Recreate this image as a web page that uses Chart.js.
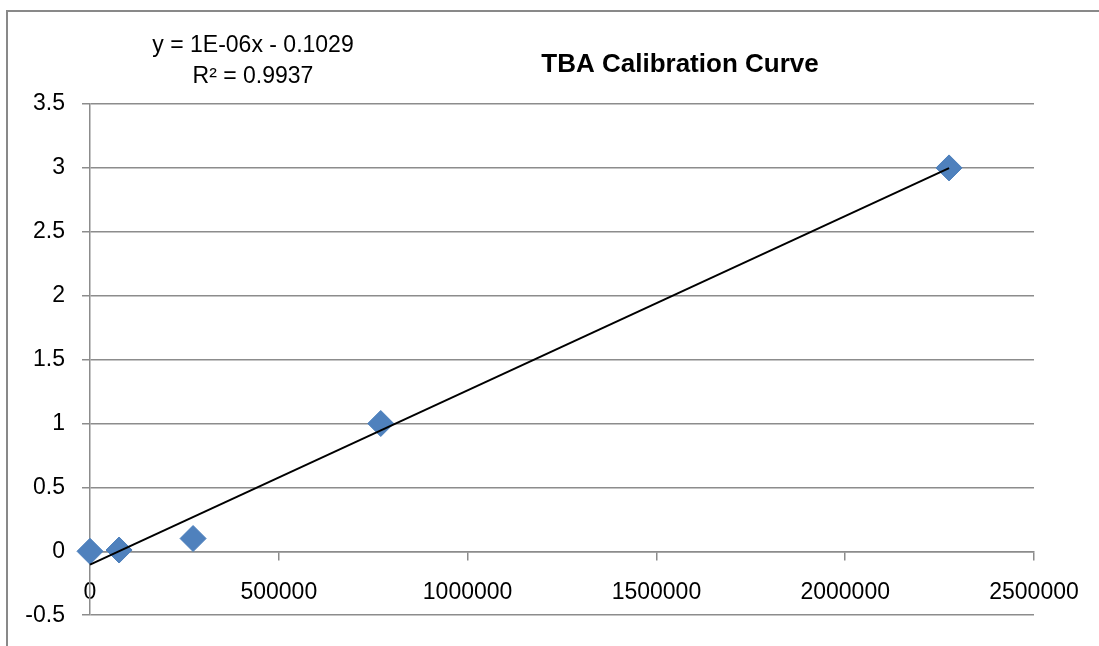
<!DOCTYPE html>
<html>
<head>
<meta charset="utf-8">
<title>TBA Calibration Curve</title>
<script src="https://cdn.jsdelivr.net/npm/chart.js@4.4.0/dist/chart.umd.min.js"></script>
<style>
    html, body { margin: 0; padding: 0; background: #ffffff; overflow: hidden; }
    #wrap { width: 1099px; height: 646px; }
</style>
</head>
<body>
<div id="wrap"><canvas id="calChart" width="1099" height="646"></canvas></div>
<script>
// --- Data ---
const peakArea = [0, 77000, 273000, 770000, 2275000];
const concentration = [0, 0.01, 0.1, 1, 3];

const chartTitle = 'TBA Calibration Curve';
const trendLabel = ['y = 1E-06x - 0.1029', 'R\u00B2 = 0.9937'];

const xTicks = { min: 0, max: 2500000, step: 500000 };
const yTicks = { min: -0.5, max: 3.5, step: 0.5 };

// --- Styles ---
const GRID = '#8c8c8c';
const MARKER = '#4f81bd';
const FONT = '"Liberation Sans", Arial, sans-serif';

// least squares fit for the trendline
const fitLine = (xs, ys) => {
    const n = xs.length;
    const mx = xs.reduce((a, b) => a + b, 0) / n;
    const my = ys.reduce((a, b) => a + b, 0) / n;
    let sxy = 0, sxx = 0;
    for (let i = 0; i < n; i++) {
        sxy += (xs[i] - mx) * (ys[i] - my);
        sxx += (xs[i] - mx) * (xs[i] - mx);
    }
    const slope = sxy / sxx;
    return { slope: slope, intercept: my - slope * mx };
};

const fit = fitLine(peakArea, concentration);
const xEnd = Math.max(...peakArea);
const trendPoints = [
    { x: 0, y: fit.intercept },
    { x: xEnd, y: fit.slope * xEnd + fit.intercept }
];
const points = peakArea.map((x, i) => ({ x: x, y: concentration[i] }));

// frame + texts drawn on the canvas
const textPlugin = {
    id: 'excelText',
    beforeDraw(chart) {
        const ctx = chart.ctx;
        ctx.save();
        ctx.strokeStyle = '#898989';
        ctx.lineWidth = 2;
        ctx.strokeRect(7, 11, 1200, 800);
        ctx.restore();
    },
    afterDraw(chart) {
        const ctx = chart.ctx;
        ctx.save();
        ctx.fillStyle = '#000000';
        ctx.textAlign = 'center';
        ctx.textBaseline = 'alphabetic';
        ctx.font = 'bold 26px ' + FONT;
        ctx.fillText(chartTitle, 680, 72);
        ctx.font = '23px ' + FONT;
        ctx.fillText(trendLabel[0], 253, 52);
        ctx.fillText(trendLabel[1], 253, 83);
        ctx.restore();
    }
};

new Chart(document.getElementById('calChart').getContext('2d'), {
    type: 'scatter',
    data: {
        datasets: [
            {
                label: 'Linear trend',
                data: trendPoints,
                showLine: true,
                borderColor: '#000000',
                borderWidth: 2,
                pointRadius: 0,
                fill: false,
                clip: false,
                order: 0
            },
            {
                label: 'TBA',
                data: points,
                pointStyle: 'rectRot',
                pointRadius: 13,
                backgroundColor: MARKER,
                borderColor: '#4a7ebb',
                borderWidth: 1,
                clip: false,
                order: 1
            }
        ]
    },
    options: {
        responsive: false,
        animation: false,
        devicePixelRatio: 1,
        layout: { padding: { left: 0, top: 104, right: 65, bottom: 26 } },
        plugins: {
            legend: { display: false },
            tooltip: { enabled: false },
            title: { display: false }
        },
        scales: {
            x: {
                type: 'linear',
                position: { y: 0 },
                min: xTicks.min,
                max: xTicks.max,
                ticks: {
                    stepSize: xTicks.step,
                    color: '#000000',
                    font: { family: FONT, size: 23 },
                    padding: 20,
                    maxRotation: 0,
                    autoSkip: false,
                    callback: (v) => String(v)
                },
                grid: { drawOnChartArea: false, drawTicks: true, tickLength: 8, color: GRID, lineWidth: 1.5 },
                border: { display: true, color: GRID, width: 1.5 }
            },
            y: {
                type: 'linear',
                min: yTicks.min,
                max: yTicks.max,
                ticks: {
                    stepSize: yTicks.step,
                    color: '#000000',
                    font: { family: FONT, size: 23 },
                    padding: 17,
                    callback: (v) => String(v)
                },
                grid: { color: GRID, lineWidth: 1.5, tickLength: 8 },
                border: { display: true, color: GRID, width: 1.5 },
                afterFit: (scale) => { scale.width = 90; }
            }
        }
    },
    plugins: [textPlugin]
});
</script>
</body>
</html>
